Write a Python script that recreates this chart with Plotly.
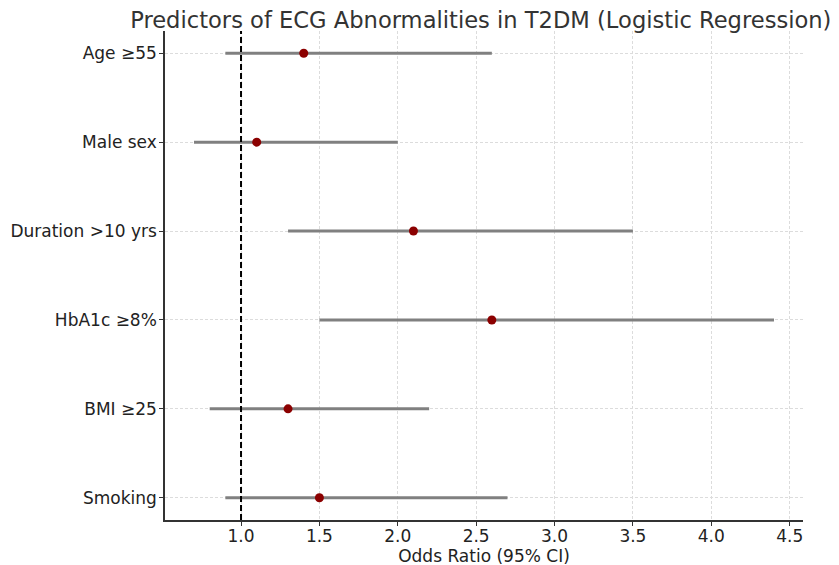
import plotly.graph_objects as go

categories = ["Age ≥55", "Male sex", "Duration >10 yrs", "HbA1c ≥8%", "BMI ≥25", "Smoking"]
odds_ratio = [1.4, 1.1, 2.1, 2.6, 1.3, 1.5]
ci_low = [0.9, 0.7, 1.3, 1.5, 0.8, 0.9]
ci_high = [2.6, 2.0, 3.5, 4.4, 2.2, 2.7]
x_ticks = [1.0, 1.5, 2.0, 2.5, 3.0, 3.5, 4.0, 4.5]

n = len(categories)
ypos = [n - 1 - i for i in range(n)]

fig = go.Figure()
for i in range(n):
    fig.add_trace(go.Scatter(
        x=[ci_low[i], ci_high[i]], y=[ypos[i], ypos[i]], mode="lines",
        line=dict(color="#808080", width=3), showlegend=False, hoverinfo="skip"))
fig.add_trace(go.Scatter(
    x=odds_ratio, y=ypos, mode="markers",
    marker=dict(color="#8B0000", size=9), showlegend=False))

fig.add_shape(type="line", x0=1.0, x1=1.0, y0=0, y1=1, yref="paper", xref="x",
              line=dict(color="black", width=2, dash="6px,3px"))

font = "DejaVu Sans, sans-serif"
fig.update_layout(
    width=839, height=565,
    margin=dict(l=157, r=44, t=23, b=53, autoexpand=False),
    plot_bgcolor="white", paper_bgcolor="white",
    font=dict(family=font, size=17, color="#222"),
    title=dict(text="Predictors of ECG Abnormalities in T2DM (Logistic Regression)",
               x=0.495, xanchor="center", xref="paper",
               y=1 - 12 / 565, yref="container", yanchor="middle",
               font=dict(family=font, size=22.6, color="#333")),
    xaxis=dict(range=[0.515, 4.585], tickvals=x_ticks,
               ticktext=[f"{v:.1f}" for v in x_ticks],
               showgrid=True, gridcolor="#dcdcdc", griddash="3px,2px", gridwidth=1,
               showline=True, linecolor="#333", linewidth=1.5,
               ticks="outside", ticklen=4, tickcolor="#333",
               ticklabelstandoff=-4,
               zeroline=False, automargin=False,
               title=dict(text="Odds Ratio (95% CI)", font=dict(size=17), standoff=0)),
    yaxis=dict(range=[-0.25, 5.25], tickvals=ypos, ticktext=categories,
               showgrid=True, gridcolor="#dcdcdc", griddash="3px,2px", gridwidth=1,
               showline=True, linecolor="#333", linewidth=1.5,
               ticks="outside", ticklen=4, tickcolor="#333", zeroline=False,
               ticklabelstandoff=-1,
               automargin=False),
)

fig.write_html("out.html")
